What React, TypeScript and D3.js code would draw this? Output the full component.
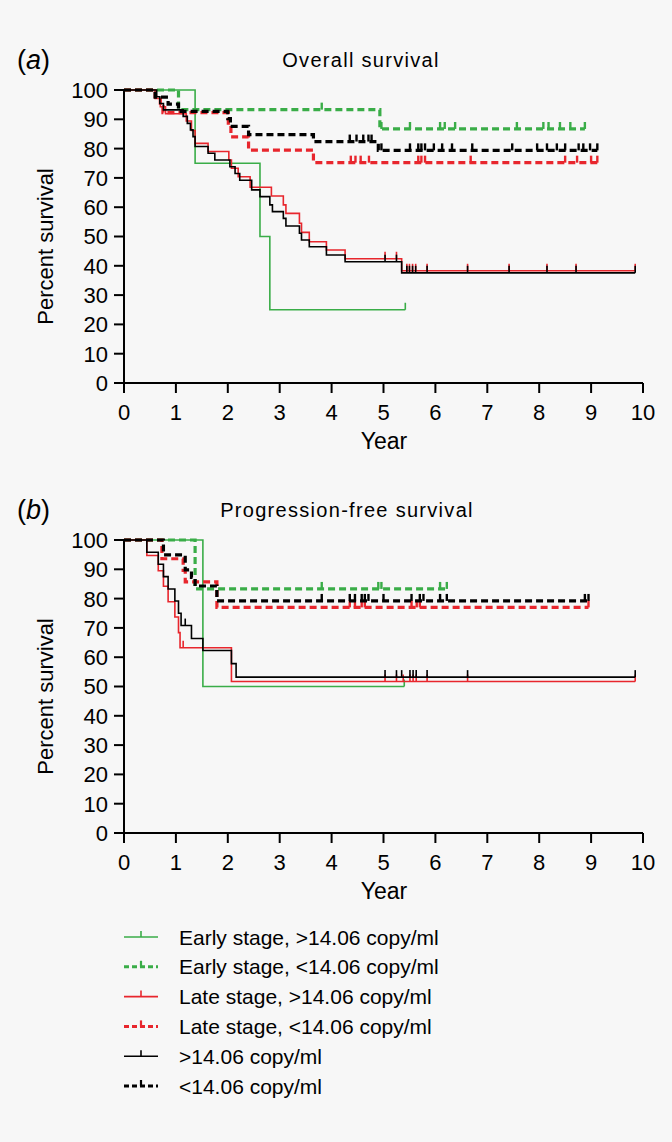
import React from "react";
import * as d3 from "d3";

// ---------- Data ----------
// Panel (a) Overall survival
const osEarlyHighT = [0, 1.37, 2.62, 2.81];
const osEarlyHighS = [100, 75, 50, 25];
const osEarlyHighEnd = 5.42;
const osEarlyHighCensor = [5.42];

const osEarlyLowT = [0, 1.05, 4.93];
const osEarlyLowS = [100, 93.3, 86.7];
const osEarlyLowEnd = 8.88;
const osEarlyLowCensor = [3.81, 4.96, 5.51, 6.09, 6.18, 6.38, 7.57, 8.08, 8.18, 8.4, 8.6, 8.88];

const osLateHighT = [0, 0.6, 0.7, 0.8, 1.2, 1.3, 1.37, 1.62, 2.02, 2.07, 2.2, 2.43, 2.84, 3.07, 3.12, 3.38, 3.42, 3.57, 3.9, 4.26, 5.35];
const osLateHighS = [100, 97.1, 94.3, 91.9, 89.4, 86.2, 81.8, 79, 76.1, 73.3, 70.4, 66.8, 63.8, 60.8, 57.9, 54.5, 51.4, 48.2, 45.4, 42.4, 38.3];
const osLateHighEnd = 9.85;
const osLateHighCensor = [5.03, 5.25, 5.45, 5.5, 5.56, 5.62, 5.84, 6.62, 7.42, 8.15, 8.71, 9.85];

const osLateLowT = [0, 0.6, 0.7, 0.75, 2.01, 2.06, 2.4, 3.65];
const osLateLowS = [100, 97.7, 94.3, 92.3, 88, 84, 79.5, 75.2];
const osLateLowEnd = 9.12;
const osLateLowCensor = [4.37, 4.46, 4.56, 4.72, 5.67, 5.73, 5.8, 6.68, 8.5, 8.73, 9.0, 9.12];

const osAllHighT = [0, 0.63, 0.69, 0.76, 1.14, 1.22, 1.28, 1.33, 1.37, 1.62, 1.75, 2.04, 2.14, 2.23, 2.46, 2.62, 2.81, 2.86, 3.07, 3.12, 3.38, 3.42, 3.57, 3.9, 4.26, 5.35];
const osAllHighS = [100, 97.7, 95.4, 93.2, 91, 88.6, 86.4, 84.1, 80.7, 78.4, 76.1, 73.8, 71.5, 69.2, 65.9, 63.6, 60.8, 58.5, 56.2, 53.6, 51.1, 48.8, 46.5, 43.7, 41.4, 37.6];
const osAllHighEnd = 9.85;
const osAllHighCensor = [5.03, 5.25, 5.45, 5.5, 5.56, 5.62, 5.84, 6.62, 7.42, 8.15, 8.71, 9.85];

const osAllLowT = [0, 0.6, 0.85, 1.05, 2.0, 2.05, 2.4, 3.65, 4.9];
const osAllLowS = [100, 97.6, 95.2, 92.7, 90.2, 87.6, 84.8, 82.4, 79.4];
const osAllLowEnd = 9.12;
const osAllLowCensor = [4.35, 4.48, 4.61, 4.71, 4.77, 4.96, 5.51, 5.67, 5.73, 5.8, 5.97, 6.13, 6.32, 6.71, 7.48, 7.96, 8.15, 8.34, 8.5, 8.76, 8.85, 8.98, 9.12];

// Panel (b) Progression-free survival
const pfsEarlyHighT = [0, 1.52];
const pfsEarlyHighS = [100, 50];
const pfsEarlyHighEnd = 5.4;
const pfsEarlyHighCensor = [5.4];

const pfsEarlyLowT = [0, 1.37];
const pfsEarlyLowS = [100, 83.3];
const pfsEarlyLowEnd = 6.22;
const pfsEarlyLowCensor = [3.81, 4.9, 4.96, 6.09, 6.22];

const pfsLateHighT = [0, 0.44, 0.66, 0.76, 0.85, 0.98, 1.05, 1.08, 2.07];
const pfsLateHighS = [100, 94.7, 89.5, 84.2, 78.9, 73.7, 68.4, 63.2, 51.7];
const pfsLateHighEnd = 9.85;
const pfsLateHighCensor = [1.14, 5.03, 5.25, 5.38, 5.51, 5.57, 5.63, 5.84, 6.62, 9.85];

const pfsLateLowT = [0, 0.73, 1.14, 1.18, 1.79];
const pfsLateLowS = [100, 93.6, 89.6, 85.7, 77];
const pfsLateLowEnd = 8.95;
const pfsLateLowCensor = [4.35, 4.45, 4.58, 4.64, 5.54, 5.64, 5.7, 8.95];

const pfsAllHighT = [0, 0.44, 0.66, 0.76, 0.85, 0.98, 1.05, 1.1, 1.3, 1.52, 2.07, 2.16];
const pfsAllHighS = [100, 95.8, 91.7, 87.5, 83.3, 79.2, 75, 70.8, 66.4, 62.3, 57.8, 53.2];
const pfsAllHighEnd = 9.85;
const pfsAllHighCensor = [1.18, 5.03, 5.25, 5.35, 5.51, 5.57, 5.63, 5.84, 6.62, 9.85];

const pfsAllLowT = [0, 0.76, 1.18, 1.3, 1.37, 1.79];
const pfsAllLowS = [100, 94.9, 89.8, 87.2, 84.3, 79.2];
const pfsAllLowEnd = 8.95;
const pfsAllLowCensor = [3.81, 4.35, 4.45, 4.58, 4.64, 4.71, 5.0, 5.54, 5.7, 5.77, 6.09, 6.22, 8.88, 8.95];

const xTicks = [0, 1, 2, 3, 4, 5, 6, 7, 8, 9, 10];
const yTicks = [0, 10, 20, 30, 40, 50, 60, 70, 80, 90, 100];

const legendLabels = [
  "Early stage, >14.06 copy/ml",
  "Early stage, <14.06 copy/ml",
  "Late stage, >14.06 copy/ml",
  "Late stage, <14.06 copy/ml",
  ">14.06 copy/ml",
  "<14.06 copy/ml",
];

// ---------- Styles ----------
const GREEN = "#3aad48";
const RED = "#e8262d";
const BLACK = "#000000";
const FONT = "'Liberation Sans', Arial, Helvetica, sans-serif";
const DASH = "7,4";

type Curve = { T: number[]; S: number[]; end: number; censor: number[]; color: string; dashed: boolean };

const styleOf = [
  { color: GREEN, dashed: false },
  { color: GREEN, dashed: true },
  { color: RED, dashed: false },
  { color: RED, dashed: true },
  { color: BLACK, dashed: false },
  { color: BLACK, dashed: true },
];

const panelA: Curve[] = [
  { T: osEarlyHighT, S: osEarlyHighS, end: osEarlyHighEnd, censor: osEarlyHighCensor, ...styleOf[0] },
  { T: osEarlyLowT, S: osEarlyLowS, end: osEarlyLowEnd, censor: osEarlyLowCensor, ...styleOf[1] },
  { T: osLateHighT, S: osLateHighS, end: osLateHighEnd, censor: osLateHighCensor, ...styleOf[2] },
  { T: osLateLowT, S: osLateLowS, end: osLateLowEnd, censor: osLateLowCensor, ...styleOf[3] },
  { T: osAllHighT, S: osAllHighS, end: osAllHighEnd, censor: osAllHighCensor, ...styleOf[4] },
  { T: osAllLowT, S: osAllLowS, end: osAllLowEnd, censor: osAllLowCensor, ...styleOf[5] },
];
const panelB: Curve[] = [
  { T: pfsEarlyHighT, S: pfsEarlyHighS, end: pfsEarlyHighEnd, censor: pfsEarlyHighCensor, ...styleOf[0] },
  { T: pfsEarlyLowT, S: pfsEarlyLowS, end: pfsEarlyLowEnd, censor: pfsEarlyLowCensor, ...styleOf[1] },
  { T: pfsLateHighT, S: pfsLateHighS, end: pfsLateHighEnd, censor: pfsLateHighCensor, ...styleOf[2] },
  { T: pfsLateLowT, S: pfsLateLowS, end: pfsLateLowEnd, censor: pfsLateLowCensor, ...styleOf[3] },
  { T: pfsAllHighT, S: pfsAllHighS, end: pfsAllHighEnd, censor: pfsAllHighCensor, ...styleOf[4] },
  { T: pfsAllLowT, S: pfsAllLowS, end: pfsAllLowEnd, censor: pfsAllLowCensor, ...styleOf[5] },
];

const x = d3.scaleLinear().domain([0, 10]).range([124, 643]);

function survAt(c: Curve, t: number) {
  let s = c.S[0];
  for (let i = 0; i < c.T.length; i++) if (c.T[i] <= t) s = c.S[i];
  return s;
}

function Panel({ top, label, title, titleX, curves }: { top: number; label: string; title: string; titleX: number; curves: Curve[] }) {
  const y = d3.scaleLinear().domain([0, 100]).range([top + 293, top]);
  const line = d3
    .line<[number, number]>()
    .x((d) => x(d[0]))
    .y((d) => y(d[1]))
    .curve(d3.curveStepAfter);
  const x0 = x(0);
  const y0 = y(0);
  return (
    <g>
      <text x={17} y={top - 21} fontFamily={FONT} fontSize={27} fill="#000">
        (<tspan fontStyle="italic">{label}</tspan>)
      </text>
      <text x={titleX} y={top - 23} fontFamily={FONT} fontSize={20} letterSpacing={1.3} textAnchor="middle" fill="#000">
        {title}
      </text>
      {curves.map((c, i) => {
        const pts: [number, number][] = c.T.map((t, j) => [t, c.S[j]] as [number, number]);
        pts.push([c.end, c.S[c.S.length - 1]]);
        const sw = c.dashed ? 3.2 : 1.6;
        return (
          <g key={i}>
            <path d={line(pts) || ""} fill="none" stroke={c.color} strokeWidth={sw} strokeDasharray={c.dashed ? DASH : undefined} />
            {c.censor.map((t, k) => {
              const yy = y(survAt(c, t));
              return <line key={k} x1={x(t)} x2={x(t)} y1={yy} y2={yy - 7} stroke={c.color} strokeWidth={c.dashed ? 2.4 : 1.6} />;
            })}
          </g>
        );
      })}
      {/* axes */}
      <line x1={x0} x2={x0} y1={y(100)} y2={y0} stroke="#000" strokeWidth={2} />
      <line x1={x0 - 10} x2={x(10)} y1={y0} y2={y0} stroke="#000" strokeWidth={2} />
      {yTicks.map((v) => (
        <g key={"y" + v}>
          <line x1={x0 - 10} x2={x0} y1={y(v)} y2={y(v)} stroke="#000" strokeWidth={2} />
          <text x={x0 - 16} y={y(v)} dy="0.36em" textAnchor="end" fontFamily={FONT} fontSize={22} fill="#000">
            {v}
          </text>
        </g>
      ))}
      {xTicks.map((v) => (
        <g key={"x" + v}>
          <line x1={x(v)} x2={x(v)} y1={y0} y2={y0 + 10} stroke="#000" strokeWidth={2} />
          <text x={x(v)} y={y0 + 37} textAnchor="middle" fontFamily={FONT} fontSize={22} fill="#000">
            {v}
          </text>
        </g>
      ))}
      <text x={384} y={y0 + 66} textAnchor="middle" fontFamily={FONT} fontSize={23} fill="#000">
        Year
      </text>
      <text
        transform={`translate(53, ${(y(100) + y0) / 2 + 10}) rotate(-90)`}
        textAnchor="middle"
        fontFamily={FONT}
        fontSize={22}
        fill="#000"
      >
        Percent survival
      </text>
    </g>
  );
}

export default function App() {
  const legendY = d3.range(legendLabels.length).map((i) => 937 + i * 29.8);
  return (
    <svg width={672} height={1142} style={{ position: "absolute", left: 0, top: 0, background: "#f7f7f7" }}>
      <rect width={672} height={1142} fill="#f7f7f7" />
      <Panel top={90} label="a" title="Overall survival" titleX={361} curves={panelA} />
      <Panel top={540} label="b" title="Progression-free survival" titleX={347} curves={panelB} />
      {legendLabels.map((lab, i) => {
        const st = styleOf[i];
        const yy = legendY[i];
        return (
          <g key={lab}>
            <line x1={124} x2={158} y1={yy} y2={yy} stroke={st.color} strokeWidth={st.dashed ? 3 : 1.6} strokeDasharray={st.dashed ? "5,3" : undefined} />
            <line x1={141} x2={141} y1={yy} y2={yy - 6} stroke={st.color} strokeWidth={st.dashed ? 2.2 : 1.6} />
            <text x={179} y={yy} dy="0.36em" fontFamily={FONT} fontSize={21} fill="#000">
              {lab}
            </text>
          </g>
        );
      })}
    </svg>
  );
}
